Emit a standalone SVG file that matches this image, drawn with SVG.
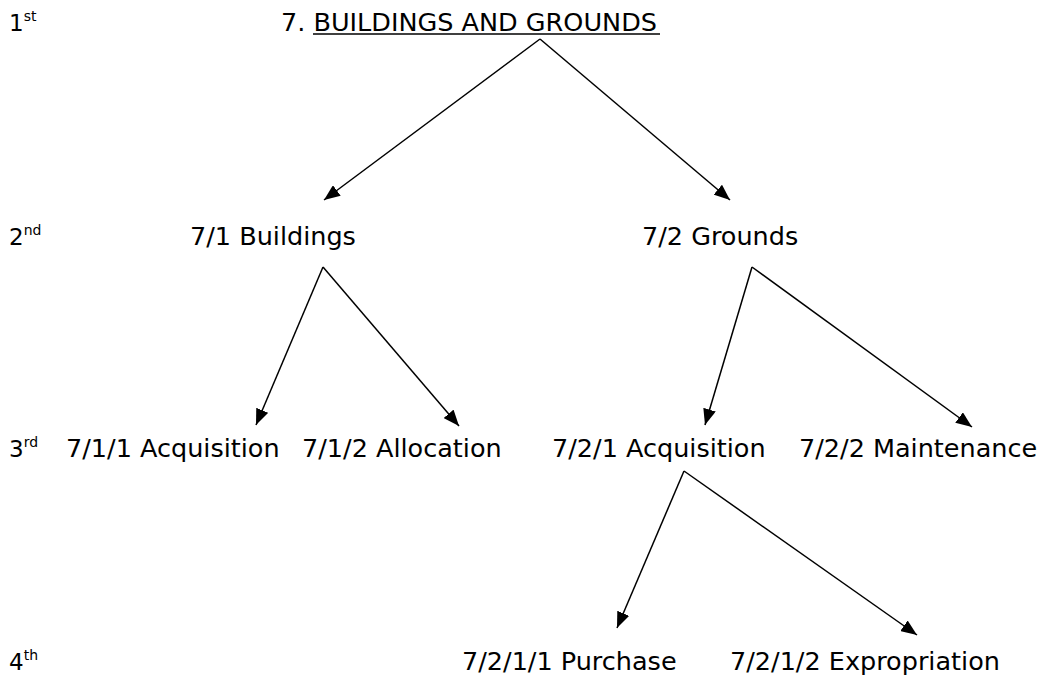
<svg xmlns="http://www.w3.org/2000/svg" width="1047" height="677" viewBox="0 0 1047 677">
<style>
text{font-family:"DejaVu Sans",Verdana,sans-serif;fill:#000}
.n{font-size:25.5px}
.lv{font-size:23px}
.sup{font-size:14px}
.c line{stroke:#000;stroke-width:1.5;fill:none;marker-end:url(#ah)}
</style>
<defs>
<marker id="ah" markerUnits="userSpaceOnUse" markerWidth="17" markerHeight="13" refX="16" refY="6.5" orient="auto">
<path d="M0,0 L16,6.5 L0,13 Z" fill="#000"/>
</marker>
</defs>
<rect width="1047" height="677" fill="#fff"/>
<g id="levels">
<text class="lv" x="9" y="31">1<tspan class="sup" dy="-10">st</tspan></text>
<text class="lv" x="9" y="245">2<tspan class="sup" dy="-10">nd</tspan></text>
<text class="lv" x="9" y="457">3<tspan class="sup" dy="-10">rd</tspan></text>
<text class="lv" x="9" y="670">4<tspan class="sup" dy="-10">th</tspan></text>
</g>
<g id="n7">
<text class="n" x="281" y="31">7. BUILDINGS AND GROUNDS</text>
<line x1="313" y1="34" x2="660" y2="34" stroke="#000" stroke-width="1.5"/>
</g>
<g id="n71"><text class="n" x="190" y="245">7/1 Buildings</text></g>
<g id="n72"><text class="n" x="642" y="245">7/2 Grounds</text></g>
<g id="n711"><text class="n" x="66" y="457">7/1/1 Acquisition</text></g>
<g id="n712"><text class="n" x="302" y="457">7/1/2 Allocation</text></g>
<g id="n721"><text class="n" x="552" y="457">7/2/1 Acquisition</text></g>
<g id="n722"><text class="n" x="799" y="457">7/2/2 Maintenance</text></g>
<g id="n7211"><text class="n" x="462" y="670">7/2/1/1 Purchase</text></g>
<g id="n7212"><text class="n" x="730" y="670">7/2/1/2 Expropriation</text></g>
<g id="connectors" class="c">
<line x1="540" y1="39" x2="324" y2="200"/>
<line x1="540" y1="39" x2="730" y2="200"/>
<line x1="323" y1="267" x2="256" y2="425"/>
<line x1="323" y1="267" x2="459" y2="426"/>
<line x1="752" y1="267" x2="705" y2="425"/>
<line x1="752" y1="267" x2="972" y2="427"/>
<line x1="684" y1="471" x2="617" y2="628"/>
<line x1="684" y1="471" x2="917" y2="635"/>
</g>
</svg>
